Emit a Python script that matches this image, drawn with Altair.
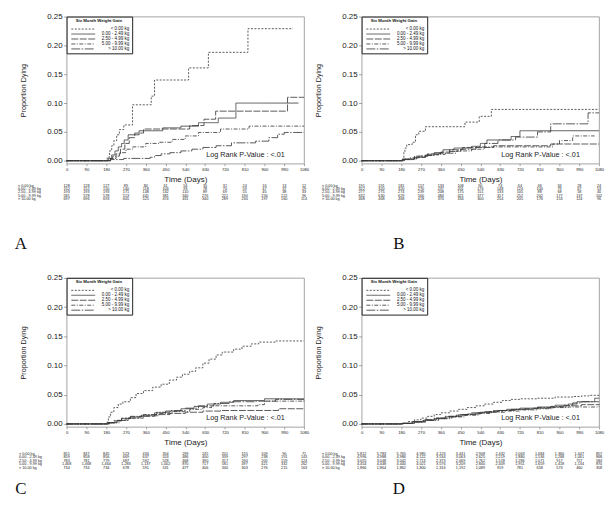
import altair as alt
import pandas as pd

GROUPS = ["< 0.00 kg", "0.00 - 2.49 kg", "2.50 - 4.99 kg", "5.00 - 9.99 kg", "> 10.00 kg"]
DAY_TICKS = [0, 90, 180, 270, 360, 450, 540, 630, 720, 810, 900, 990, 1080]
P_TICKS = [0.0, 0.05, 0.10, 0.15, 0.20, 0.25]
LOGRANK = "Log Rank P-Value : <.01"
LETTERS = ["A", "B", "C", "D"]

# ---- Panel A curves (day, proportion dying) ----
A_LT0 = [(0, 0), (185, 0.006), (195, 0.017), (205, 0.026), (215, 0.035), (228, 0.045), (240, 0.054),
         (260, 0.062), (300, 0.097), (385, 0.112), (400, 0.140), (555, 0.161), (645, 0.188), (825, 0.229), (1030, 0.229)]
A_G1 = [(0, 0), (190, 0.004), (205, 0.010), (220, 0.017), (235, 0.024), (250, 0.030), (262, 0.036), (280, 0.045),
        (330, 0.052), (437, 0.057), (520, 0.060), (600, 0.066), (690, 0.074), (770, 0.100), (1055, 0.100)]
A_G2 = [(0, 0), (200, 0.004), (225, 0.012), (245, 0.020), (265, 0.030), (285, 0.040), (310, 0.048), (350, 0.055),
        (560, 0.061), (625, 0.072), (678, 0.086), (1005, 0.110), (1080, 0.110)]
A_G3 = [(0, 0), (195, 0.003), (210, 0.008), (240, 0.014), (270, 0.020), (300, 0.024), (360, 0.030), (420, 0.032),
        (480, 0.037), (540, 0.043), (600, 0.049), (700, 0.055), (830, 0.060), (1080, 0.060)]
A_G4 = [(0, 0), (200, 0.002), (260, 0.004), (380, 0.006), (400, 0.009), (430, 0.012), (470, 0.014), (520, 0.017),
        (570, 0.020), (620, 0.023), (680, 0.026), (750, 0.031), (860, 0.034), (920, 0.040), (960, 0.046), (990, 0.049), (1080, 0.049)]

# ---- Panel B curves ----
B_LT0 = [(0, 0), (188, 0.005), (192, 0.015), (197, 0.022), (205, 0.028), (230, 0.032), (245, 0.045), (260, 0.051),
         (290, 0.059), (470, 0.067), (535, 0.077), (590, 0.089), (1080, 0.089)]
B_G1 = [(0, 0), (185, 0.002), (240, 0.006), (290, 0.010), (330, 0.014), (370, 0.019), (420, 0.022), (500, 0.025),
        (540, 0.030), (570, 0.036), (680, 0.042), (720, 0.052), (1080, 0.052)]
B_G2 = [(0, 0), (190, 0.003), (240, 0.008), (300, 0.012), (360, 0.015), (400, 0.019), (460, 0.023), (600, 0.026),
        (860, 0.029), (1080, 0.029)]
B_G3 = [(0, 0), (195, 0.003), (250, 0.006), (290, 0.009), (330, 0.011), (380, 0.013), (430, 0.017), (500, 0.020),
        (560, 0.024), (870, 0.029), (900, 0.035), (960, 0.043), (1060, 0.043)]
B_G4 = [(0, 0), (185, 0.002), (220, 0.005), (260, 0.008), (300, 0.010), (350, 0.013), (400, 0.016), (450, 0.020),
        (520, 0.024), (560, 0.030), (620, 0.036), (700, 0.041), (800, 0.050), (860, 0.064), (1030, 0.083), (1080, 0.083)]

# ---- Panel C curves ----
C_LT0 = [(0, 0), (181, 0.003), (190, 0.012), (200, 0.020), (215, 0.028), (235, 0.034), (256, 0.038), (290, 0.045),
         (316, 0.052), (350, 0.057), (392, 0.063), (430, 0.068), (467, 0.075), (500, 0.080), (527, 0.085), (560, 0.090),
         (587, 0.096), (620, 0.104), (648, 0.111), (680, 0.118), (708, 0.123), (760, 0.128), (798, 0.133), (840, 0.137),
         (874, 0.140), (949, 0.142), (1080, 0.142)]
C_G1 = [(0, 0), (190, 0.002), (220, 0.005), (250, 0.009), (290, 0.012), (340, 0.015), (400, 0.019), (450, 0.022),
        (520, 0.026), (580, 0.030), (640, 0.034), (700, 0.037), (760, 0.040), (900, 0.043), (1080, 0.043)]
C_G2 = [(0, 0), (190, 0.002), (230, 0.006), (270, 0.010), (330, 0.013), (400, 0.016), (470, 0.018), (540, 0.020),
        (620, 0.022), (700, 0.023), (964, 0.026), (1080, 0.026)]
C_G3 = [(0, 0), (195, 0.002), (240, 0.006), (280, 0.010), (350, 0.014), (420, 0.018), (480, 0.021), (560, 0.025),
        (620, 0.028), (660, 0.031), (870, 0.033), (900, 0.039), (1080, 0.040)]
C_G4 = [(0, 0), (185, 0.002), (215, 0.006), (250, 0.010), (290, 0.013), (350, 0.016), (410, 0.020), (470, 0.023),
        (540, 0.027), (600, 0.031), (670, 0.035), (740, 0.038), (860, 0.039), (950, 0.042), (1080, 0.042)]

# ---- Panel D curves ----
D_LT0 = [(0, 0), (180, 0.001), (210, 0.004), (240, 0.007), (270, 0.010), (300, 0.013), (330, 0.016), (360, 0.019),
         (400, 0.022), (440, 0.025), (480, 0.028), (520, 0.031), (560, 0.034), (600, 0.037), (640, 0.040), (680, 0.042),
         (720, 0.043), (800, 0.044), (880, 0.046), (960, 0.047), (1000, 0.048), (1040, 0.049), (1080, 0.050)]
D_G1 = [(0, 0), (185, 0.001), (230, 0.003), (280, 0.006), (330, 0.009), (380, 0.012), (430, 0.015), (480, 0.017),
        (540, 0.020), (600, 0.023), (660, 0.025), (720, 0.027), (800, 0.029), (880, 0.032), (940, 0.034), (980, 0.038),
        (1060, 0.044), (1080, 0.044)]
D_G2 = [(0, 0), (190, 0.001), (240, 0.004), (290, 0.007), (340, 0.010), (400, 0.013), (460, 0.016), (520, 0.019),
        (580, 0.021), (640, 0.023), (700, 0.025), (780, 0.027), (860, 0.029), (930, 0.031), (1000, 0.033), (1080, 0.034)]
D_G3 = [(0, 0), (190, 0.001), (240, 0.003), (290, 0.006), (350, 0.009), (410, 0.012), (470, 0.015), (530, 0.018),
        (590, 0.020), (650, 0.022), (720, 0.024), (800, 0.026), (870, 0.028), (940, 0.029), (1080, 0.030)]
D_G4 = [(0, 0), (185, 0.001), (230, 0.004), (280, 0.007), (330, 0.010), (380, 0.013), (440, 0.016), (500, 0.019),
        (560, 0.021), (620, 0.023), (680, 0.025), (740, 0.026), (800, 0.028), (860, 0.030), (920, 0.032), (960, 0.036),
        (1000, 0.038), (1080, 0.038)]

# ---- Numbers at risk (one list per weight-gain group, at each DAY_TICK) ----
RISK_A = [[128, 128, 127, 89, 80, 61, 54, 35, 31, 24, 16, 13, 12],
          [152, 152, 150, 140, 118, 103, 93, 78, 70, 59, 47, 37, 29],
          [193, 193, 193, 171, 148, 132, 110, 89, 69, 55, 45, 38, 33],
          [581, 578, 578, 513, 441, 381, 340, 276, 221, 190, 156, 122, 96],
          [697, 696, 693, 605, 525, 474, 431, 340, 289, 230, 197, 160, 114]]
RISK_B = [[191, 191, 181, 157, 133, 108, 90, 74, 64, 46, 34, 28, 24],
          [322, 320, 320, 270, 237, 201, 176, 148, 124, 100, 79, 67, 53],
          [277, 275, 274, 239, 208, 175, 151, 133, 105, 88, 68, 58, 40],
          [632, 630, 629, 560, 484, 421, 377, 317, 252, 202, 177, 137, 102],
          [468, 468, 468, 418, 370, 334, 300, 254, 205, 176, 153, 124, 96]]
RISK_C = [[851, 847, 845, 523, 434, 354, 299, 245, 201, 155, 109, 90, 71],
          [859, 858, 856, 669, 637, 553, 486, 400, 339, 297, 238, 191, 143],
          [783, 781, 779, 687, 592, 528, 468, 390, 317, 260, 205, 159, 124],
          [1468, 1468, 1464, 1283, 1137, 1002, 870, 717, 581, 497, 421, 332, 262],
          [734, 734, 734, 678, 591, 531, 477, 406, 340, 303, 276, 215, 163]]
RISK_D = [[5812, 5783, 5765, 4985, 4126, 3441, 2908, 2432, 2063, 1684, 1360, 1047, 857],
          [4996, 4988, 4986, 4122, 3534, 3063, 2625, 2219, 1880, 1536, 1268, 1061, 868],
          [3055, 3048, 3042, 2713, 2373, 2069, 1762, 1518, 1286, 1071, 917, 757, 584],
          [4454, 4448, 4440, 4021, 3576, 3209, 2840, 2409, 1951, 1659, 1418, 1134, 870],
          [1866, 1864, 1862, 1800, 1316, 1192, 1089, 919, 781, 658, 573, 460, 358]]

SANS = "Liberation Sans"
DASHES = [[2, 1.5], [1, 0], [7, 1.5], [4, 1.5, 1, 1.5], [9, 1.5, 1.5, 1.5]]


def curve_df(curves):
    rows = []
    for g, pts in zip(GROUPS, curves):
        for t, p in pts:
            rows.append({"group": g, "t": t, "p": p})
    return pd.DataFrame(rows)


def risk_df(risk):
    rows = []
    for gi, (g, vals) in enumerate(zip(GROUPS, risk)):
        for t, n in zip(DAY_TICKS, vals):
            rows.append({"group": g, "row": gi, "t": t, "n": f"{n:,}"})
    return pd.DataFrame(rows)


def x_enc(xs):
    return alt.X("t:Q", scale=xs, title="Time (Days)",
                 axis=alt.Axis(values=DAY_TICKS, format="d", labelFontSize=4.2, tickSize=2, labelPadding=1.5,
                               titleFontSize=8, titlePadding=4.5, labelOverlap=False, labelFlush=False))


def panel(curves, risk, letter, h, lab_dx, letter_xy, row_range):
    xs = alt.Scale(domain=[0, 1080], nice=False, zero=False)
    ys = alt.Scale(domain=[-0.005, 0.25], nice=False, zero=False)
    rs = alt.Scale(domain=[0, 4], range=row_range, nice=False, zero=False)
    lines = alt.Chart(curve_df(curves)).mark_line(
        interpolate="step-after", strokeWidth=0.8, color="#333"
    ).encode(
        x=x_enc(xs),
        y=alt.Y("p:Q", scale=ys, title="Proportion Dying",
                axis=alt.Axis(values=P_TICKS, format=".2f", labelFontSize=8, tickSize=3, labelPadding=1.5,
                              titleFontSize=7.2, titlePadding=19, labelOverlap=False)),
        strokeDash=alt.StrokeDash(
            "group:N", scale=alt.Scale(domain=GROUPS, range=DASHES),
            legend=alt.Legend(
                title="Six Month Weight Gain", orient="top-left", offset=0, padding=2.5,
                titleFontSize=4.3, titleFont=SANS, titleFontWeight="bold", titleAnchor="middle",
                titleAlign="center", titlePadding=3.5, titleColor="#111",
                labelFontSize=4.5, labelFont=SANS, labelAlign="right", labelOffset=56, labelColor="#111",
                symbolType="M0,0H24", symbolSize=4, symbolStrokeWidth=0.8, symbolStrokeColor="#333",
                strokeColor="#222", fillColor="white", rowPadding=0, labelLimit=100,
            ),
        ),
    )
    lr = alt.Chart(pd.DataFrame({"t": [993], "p": [0.01], "s": [LOGRANK]})).mark_text(
        align="right", baseline="middle", fontSize=7.3, font=SANS, color="#222"
    ).encode(
        x=x_enc(xs),
        y=alt.Y("p:Q", scale=ys, axis=None),
        text="s:N",
    )
    tbl = alt.Chart(risk_df(risk)).mark_text(
        fontSize=3.8, font=SANS, color="#222", baseline="middle"
    ).encode(
        x=x_enc(xs),
        y=alt.Y("row:Q", scale=rs, axis=None),
        text="n:N",
    )
    labs = alt.Chart(pd.DataFrame({"group": GROUPS, "row": list(range(5))})).mark_text(
        fontSize=3.8, font=SANS, color="#222", align="left", baseline="middle"
    ).encode(
        x=alt.value(lab_dx),
        y=alt.Y("row:Q", scale=rs, axis=None),
        text="group:N",
    )
    let = alt.Chart(pd.DataFrame({"s": [letter]})).mark_text(
        fontSize=17, font="Liberation Serif", color="#111", align="center", baseline="middle"
    ).encode(
        x=alt.value(letter_xy[0]), y=alt.value(letter_xy[1]), text="s:N"
    )
    return alt.layer(lines, lr, tbl, labs, let).resolve_scale(y="independent").properties(width=239, height=h)


pa = panel([A_LT0, A_G1, A_G2, A_G3, A_G4], RISK_A, LETTERS[0], 148, -49, (-46, 228.5), [170.5, 183.5])
pb = panel([B_LT0, B_G1, B_G2, B_G3, B_G4], RISK_B, LETTERS[1], 148, -40, (37.5, 228.5), [170.5, 183.5])
pc = panel([C_LT0, C_G1, C_G2, C_G3, C_G4], RISK_C, LETTERS[2], 150, -48, (-46, 213), [177, 191])
pdd = panel([D_LT0, D_G1, D_G2, D_G3, D_G4], RISK_D, LETTERS[3], 150, -40, (37.5, 213), [177, 191])

chart = alt.concat(
    pa, pb, pc, pdd, columns=2, spacing={"row": 115, "column": 58}, bounds="flush"
).resolve_scale(
    strokeDash="independent"
).resolve_legend(strokeDash="independent").properties(
    padding={"left": 6, "top": 2, "right": 2, "bottom": 2}
).configure_view(
    stroke="#8c8c8c", strokeWidth=0.8
).configure_axis(
    labelFont=SANS, titleFont=SANS, domain=False, grid=False, tickColor="#888", tickWidth=0.8,
    labelColor="#222", titleColor="#222", titleFontWeight="normal"
)

chart.save("out.html", embed_options={"renderer": "svg", "actions": False})
